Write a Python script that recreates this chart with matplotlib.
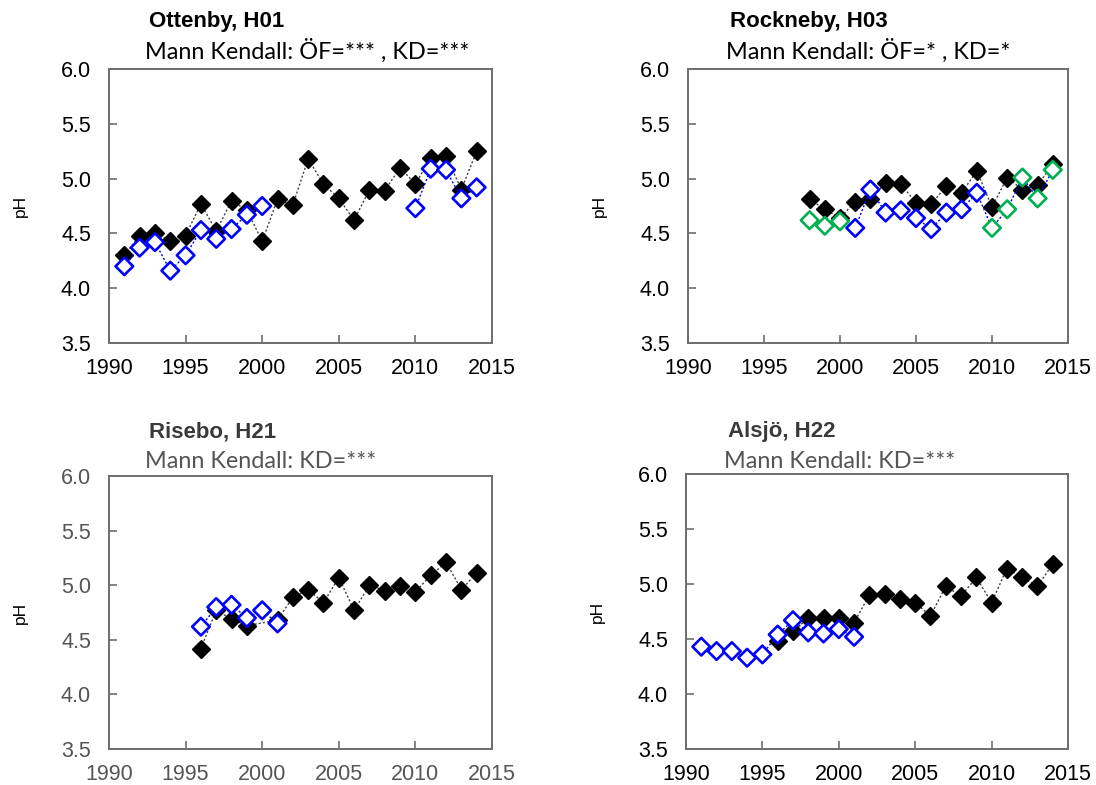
#!/usr/bin/env python
""" pH in open field and throughfall at four sites, 1990-2015. """

# Third party modules.
import numpy as np
import matplotlib
matplotlib.use("Agg")
import matplotlib.pyplot as plt

# Globals and constants variables.
BLUE = "#0000FF"
GREEN = "#00B050"

# Ottenby, H01
ottenby_kd_years = list(range(1991, 2015))
ottenby_kd = [4.30, 4.48, 4.50, 4.43, 4.48, 4.77, 4.52, 4.80, 4.71, 4.43, 4.81, 4.76,
              5.18, 4.95, 4.82, 4.62, 4.90, 4.89, 5.10, 4.95, 5.19, 5.21, 4.90, 5.25]
ottenby_of_years = list(range(1991, 2015))
ottenby_of = [4.20, 4.37, 4.42, 4.16, 4.30, 4.53, 4.45, 4.54, 4.67, 4.75,
              None, None, None, None, None, None, None, None, None,
              4.73, 5.09, 5.08, 4.82, 4.92]

# Rockneby, H03
rockneby_kd_years = list(range(1998, 2015))
rockneby_kd = [4.81, 4.72, 4.64, 4.79, 4.81, 4.96, 4.95, 4.78, 4.77, 4.93, 4.87, 5.07,
               4.74, 5.01, 4.90, 4.94, 5.13]
rockneby_of_years = list(range(1998, 2015))
rockneby_of = [4.62, 4.57, 4.61, 4.55, 4.90, 4.69, 4.71, 4.64, 4.54, 4.69, 4.72, 4.87,
               4.55, 4.72, 5.01, 4.82, 5.08]
rockneby_of_colors = [GREEN]*3 + [BLUE]*9 + [GREEN]*5

# Risebo, H21
risebo_kd_years = [1996, 1997, 1998, 1999, 2001, 2002, 2003, 2004, 2005, 2006, 2007,
                   2008, 2009, 2010, 2011, 2012, 2013, 2014]
risebo_kd = [4.42, 4.77, 4.69, 4.63, 4.68, 4.89, 4.96, 4.84, 5.07, 4.77, 5.00,
             4.95, 4.99, 4.94, 5.09, 5.21, 4.96, 5.11]
risebo_of_years = list(range(1996, 2002))
risebo_of = [4.62, 4.80, 4.82, 4.70, 4.77, 4.65]

# Alsjö, H22
alsjo_kd_years = list(range(1996, 2015))
alsjo_kd = [4.48, 4.57, 4.69, 4.69, 4.69, 4.65, 4.90, 4.91, 4.86, 4.83, 4.71, 4.98,
            4.89, 5.06, 4.83, 5.14, 5.06, 4.98, 5.18]
alsjo_of_years = list(range(1991, 2002))
alsjo_of = [4.43, 4.39, 4.39, 4.33, 4.36, 4.54, 4.67, 4.56, 4.55, 4.59, 4.52]

x_ticks = [1990, 1995, 2000, 2005, 2010, 2015]
y_ticks = [3.5, 4.0, 4.5, 5.0, 5.5, 6.0]

W, H = 1096.0, 785.0


def px_axes(fig, left, top, right, bottom):
    return fig.add_axes([left/W, 1 - bottom/H, (right - left)/W, (bottom - top)/H])


def setupAxes(ax, labelColor):
    ax.set_xlim(1990, 2015)
    ax.set_ylim(3.5, 6.0)
    ax.set_xticks(x_ticks)
    ax.set_yticks(y_ticks)
    ax.set_xticklabels([str(x) for x in x_ticks])
    ax.set_yticklabels(["%.1f" % y for y in y_ticks])
    for side in ax.spines:
        ax.spines[side].set_color("#6e6e6e")
        ax.spines[side].set_linewidth(1.4)
    ax.tick_params(direction="in", length=6, width=1.2, color="#6e6e6e",
                   labelsize=15.5, labelcolor=labelColor)
    ax.tick_params(axis="y", pad=13)
    ax.tick_params(axis="x", pad=11)
    for label in ax.get_xticklabels() + ax.get_yticklabels():
        label.set_family("Liberation Sans")
    ax.set_ylabel("pH", fontsize=12.5, family="Liberation Sans", labelpad=24)


def plotKd(ax, years, values):
    ax.plot(years, values, linestyle=(0, (1.5, 1.5)), color="#404040", linewidth=1.0,
            marker="D", markersize=9.4, markerfacecolor="black", markeredgecolor="black",
            zorder=2)


def plotOf(ax, years, values, colors=None):
    vals = np.array([np.nan if v is None else v for v in values], dtype=float)
    ax.plot(years, vals, linestyle=(0, (1.5, 1.5)), color=BLUE, linewidth=1.0, zorder=3)
    if colors is None:
        colors = [BLUE]*len(years)
    ax.scatter(years, vals, marker="D", s=80, facecolors="white", edgecolors=colors,
               linewidths=1.9, zorder=4)


def addTitle(fig, x, y, title, subtitle, color, subColor):
    fig.text(x/W, 1 - y/H, title, fontsize=16, fontweight="bold",
             family="Liberation Sans", color=color, va="center", ha="left")
    fig.text((x - 4)/W, 1 - (y + 29)/H, subtitle, fontsize=16.9, family="Lato",
             color=subColor, va="center", ha="left")


def run():
    fig = plt.figure(figsize=(W/100, H/100), dpi=100)

    ax1 = px_axes(fig, 109, 69, 492, 343)
    setupAxes(ax1, "black")
    plotKd(ax1, ottenby_kd_years, ottenby_kd)
    plotOf(ax1, ottenby_of_years, ottenby_of)
    addTitle(fig, 149, 22, "Ottenby, H01", "Mann Kendall: ÖF=*** , KD=***", "black", "black")

    ax2 = px_axes(fig, 688, 69, 1068, 343)
    setupAxes(ax2, "black")
    plotKd(ax2, rockneby_kd_years, rockneby_kd)
    plotOf(ax2, rockneby_of_years, rockneby_of, rockneby_of_colors)
    addTitle(fig, 730, 22, "Rockneby, H03", "Mann Kendall: ÖF=* , KD=*", "black", "black")

    ax3 = px_axes(fig, 109, 476, 492, 749)
    setupAxes(ax3, "#555555")
    plotKd(ax3, risebo_kd_years, risebo_kd)
    plotOf(ax3, risebo_of_years, risebo_of)
    addTitle(fig, 149, 432, "Risebo, H21", "Mann Kendall: KD=***", "#3a3a3a", "#555555")

    ax4 = px_axes(fig, 686, 474, 1068, 749)
    setupAxes(ax4, "black")
    plotKd(ax4, alsjo_kd_years, alsjo_kd)
    plotOf(ax4, alsjo_of_years, alsjo_of)
    addTitle(fig, 728, 432, "Alsjö, H22", "Mann Kendall: KD=***", "#3a3a3a", "#555555")

    fig.savefig("out.png", dpi=100)


if __name__ == '__main__':  #pragma: no cover
    run()
